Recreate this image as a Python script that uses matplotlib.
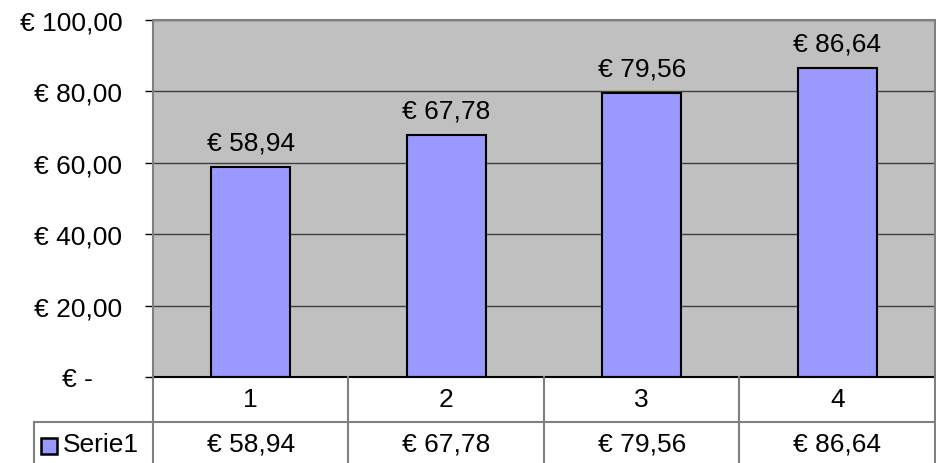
import matplotlib.pyplot as plt
from matplotlib.patches import Rectangle

# data
categories = ['1', '2', '3', '4']
values = [58.94, 67.78, 79.56, 86.64]
series_name = 'Serie1'
yticks = [0, 20, 40, 60, 80, 100]


def euro(v):
    if v == 0:
        return '€ -    '
    return '€ ' + f'{v:.2f}'.replace('.', ',')


plt.rcParams['font.family'] = ['Liberation Sans', 'DejaVu Sans']
FS = 19
bar_color = '#9999FF'
line_col = '#808080'

fig = plt.figure(figsize=(9.37, 4.64), dpi=100)
fig.patch.set_facecolor('white')

W, H = 937, 464
left, right, top, bottom = 153, 935, 21, 378
ax = fig.add_axes([left / W, (H - bottom) / H, (right - left) / W, (bottom - top) / H])
ax.set_facecolor('#C0C0C0')

x = list(range(len(values)))
ax.bar(x, values, width=0.405, color=bar_color, edgecolor='black', linewidth=1.5, zorder=3)
for xi, v in zip(x, values):
    ax.annotate(euro(v), (xi, v), xytext=(0, 9), textcoords='offset points',
                ha='center', va='bottom', fontsize=FS)

ax.set_xlim(-0.5, len(values) - 0.5)
ax.set_ylim(0, 100)
ax.set_yticks(yticks)
ax.set_yticklabels([euro(v) for v in yticks], fontsize=FS)
ax.tick_params(axis='y', length=6, width=1, color='black', pad=16)
ax.set_xticks([])
ax.yaxis.grid(True, color='#404040', linewidth=1)
ax.set_axisbelow(True)
for s in ax.spines.values():
    s.set_color(line_col)
    s.set_linewidth(1.5)
ax.spines['bottom'].set_color('black')
ax.spines['bottom'].set_zorder(4)

# data table below the plot
n = len(values)
row_line = 423
row1_y = (H - row_line) / H
row2_y = -0.05
fig.add_artist(plt.Line2D([34 / W, right / W], [row1_y, row1_y], color=line_col, lw=1.5))
for i in range(n + 1):
    xp = (left + i * (right - left) / n) / W
    fig.add_artist(plt.Line2D([xp, xp], [row2_y, (H - bottom) / H], color=line_col, lw=1.5))
fig.add_artist(plt.Line2D([34 / W, 34 / W], [row2_y, row1_y], color=line_col, lw=1.5))

for i, (c, v) in enumerate(zip(categories, values)):
    xc = (left + (i + 0.5) * (right - left) / n) / W
    fig.text(xc, (H - 400) / H, c, ha='center', va='center', fontsize=FS)
    fig.text(xc, (H - 445) / H, euro(v), ha='center', va='center', fontsize=FS)

# legend key + series name
fig.add_artist(Rectangle((41 / W, (H - 455) / H), 16 / W, 16 / H, facecolor=bar_color,
                         edgecolor='black', linewidth=1.8, transform=fig.transFigure))
fig.text(63 / W, (H - 445) / H, series_name, ha='left', va='center', fontsize=FS)

fig.savefig('out.png', dpi=100, facecolor='white')
